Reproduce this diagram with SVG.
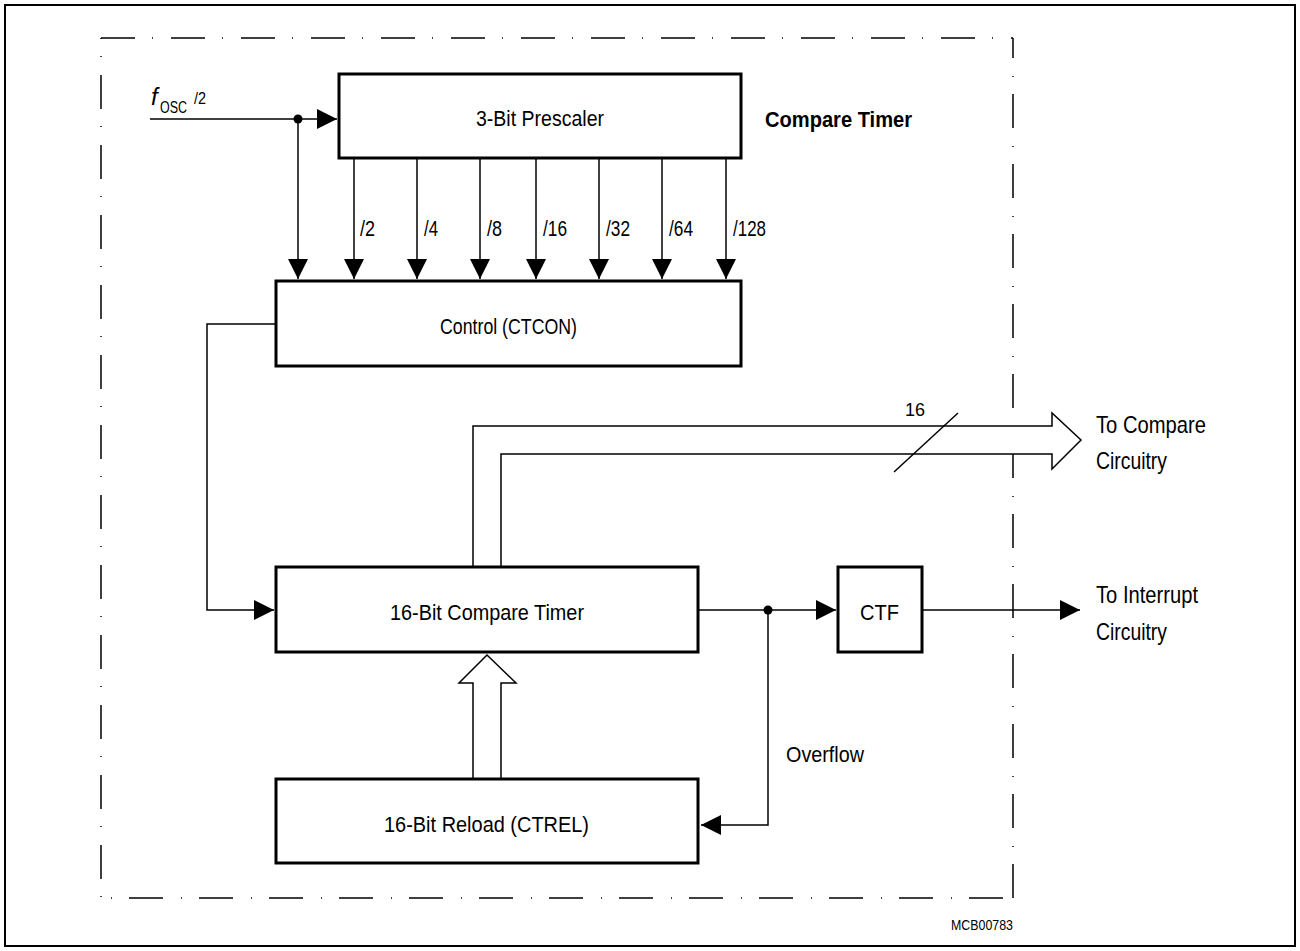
<svg xmlns="http://www.w3.org/2000/svg" width="1300" height="951" viewBox="0 0 1300 951">
<style>
.box{fill:#fff;stroke:#000;stroke-width:3}
.ln{fill:none;stroke:#000;stroke-width:1.5}
.dash{fill:none;stroke:#000;stroke-width:1.5;stroke-dasharray:34 17 1 18}
.t{font-family:"Liberation Sans",Arial,Helvetica,sans-serif;font-size:22px;fill:#000}
.b{font-weight:bold}
</style>
<defs>
<marker id="ah" markerUnits="userSpaceOnUse" markerWidth="20" markerHeight="20" refX="20" refY="10" orient="auto" viewBox="0 0 20 20">
<path d="M0,0 L20,10 L0,20 z" fill="#000"/>
</marker>
</defs>
<rect x="5" y="5" width="1290" height="941" fill="#fff" stroke="#000" stroke-width="2"/>
<g id="frame">
<path class="dash" d="M101,38 H1013"/>
<path class="dash" d="M101,38 V898" style="stroke-dashoffset:33"/>
<path class="dash" d="M1013,898 H101" style="stroke-dashoffset:60"/>
<path class="dash" d="M1013,898 V38"/>
</g>
<g id="connectors">
<path class="ln" d="M150,119 H337" marker-end="url(#ah)"/>
<path class="ln" d="M298,119 V279" marker-end="url(#ah)"/>
<circle cx="298" cy="119" r="4.5" fill="#000"/>
<path class="ln" d="M354,158 V279" marker-end="url(#ah)"/>
<path class="ln" d="M417,158 V279" marker-end="url(#ah)"/>
<path class="ln" d="M480,158 V279" marker-end="url(#ah)"/>
<path class="ln" d="M536,158 V279" marker-end="url(#ah)"/>
<path class="ln" d="M599,158 V279" marker-end="url(#ah)"/>
<path class="ln" d="M662,158 V279" marker-end="url(#ah)"/>
<path class="ln" d="M726,158 V279" marker-end="url(#ah)"/>
<path class="ln" d="M276,324 H207 V610 H274" marker-end="url(#ah)"/>
<path class="ln" d="M698,610 H836" marker-end="url(#ah)"/>
<circle cx="768" cy="610" r="4.5" fill="#000"/>
<path class="ln" d="M768,610 V825 H701" marker-end="url(#ah)"/>
<path class="ln" d="M922,610 H1080" marker-end="url(#ah)"/>
<path d="M473,567 V426 H1052 V413 L1081,440 L1052,469 V454 H501 V567" fill="#fff" stroke="#000" stroke-width="1.5"/>
<path class="ln" d="M894,472 L958,413"/>
<path d="M473,779 V683 H459 L487,655 L516,683 H501 V779" fill="#fff" stroke="#000" stroke-width="1.5"/>
</g>
<g id="prescaler">
<rect class="box" x="339" y="74" width="402" height="84"/>
<text class="t" x="540" y="126" text-anchor="middle" textLength="128" lengthAdjust="spacingAndGlyphs">3-Bit Prescaler</text>
</g>
<g id="control">
<rect class="box" x="276" y="281" width="465" height="85"/>
<text class="t" x="440" y="334" textLength="137" lengthAdjust="spacingAndGlyphs">Control (CTCON)</text>
</g>
<g id="compare-timer">
<rect class="box" x="276" y="567" width="422" height="85"/>
<text class="t" x="487" y="620" text-anchor="middle" textLength="194" lengthAdjust="spacingAndGlyphs">16-Bit Compare Timer</text>
</g>
<g id="ctf">
<rect class="box" x="838" y="567" width="84" height="85"/>
<text class="t" x="860" y="620" textLength="39" lengthAdjust="spacingAndGlyphs">CTF</text>
</g>
<g id="reload">
<rect class="box" x="276" y="779" width="422" height="84"/>
<text class="t" x="384" y="832" textLength="205" lengthAdjust="spacingAndGlyphs">16-Bit Reload (CTREL)</text>
</g>
<g id="labels">
<text class="t" x="151" y="105" style="font-style:italic;font-size:24px">f</text>
<text class="t" x="160" y="113" style="font-size:16px" textLength="27" lengthAdjust="spacingAndGlyphs">OSC</text>
<text class="t" x="194" y="104" style="font-size:16px" textLength="12" lengthAdjust="spacingAndGlyphs">/2</text>
<text class="t b" x="765" y="127" textLength="147" lengthAdjust="spacingAndGlyphs">Compare Timer</text>
<text class="t" x="360" y="236" textLength="15" lengthAdjust="spacingAndGlyphs">/2</text>
<text class="t" x="424" y="236" textLength="14" lengthAdjust="spacingAndGlyphs">/4</text>
<text class="t" x="487" y="236" textLength="15" lengthAdjust="spacingAndGlyphs">/8</text>
<text class="t" x="543" y="236" textLength="24" lengthAdjust="spacingAndGlyphs">/16</text>
<text class="t" x="606" y="236" textLength="24" lengthAdjust="spacingAndGlyphs">/32</text>
<text class="t" x="669" y="236" textLength="24" lengthAdjust="spacingAndGlyphs">/64</text>
<text class="t" x="733" y="236" textLength="33" lengthAdjust="spacingAndGlyphs">/128</text>
<text class="t" x="905" y="416" style="font-size:19px" textLength="20" lengthAdjust="spacingAndGlyphs">16</text>
<text class="t" x="1096" y="433" style="font-size:24px" textLength="110" lengthAdjust="spacingAndGlyphs">To Compare</text>
<text class="t" x="1096" y="469" style="font-size:24px" textLength="71" lengthAdjust="spacingAndGlyphs">Circuitry</text>
<text class="t" x="1096" y="603" style="font-size:24px" textLength="102" lengthAdjust="spacingAndGlyphs">To Interrupt</text>
<text class="t" x="1096" y="640" style="font-size:24px" textLength="71" lengthAdjust="spacingAndGlyphs">Circuitry</text>
<text class="t" x="786" y="762" textLength="78" lengthAdjust="spacingAndGlyphs">Overflow</text>
<text class="t" x="951" y="930" style="font-size:15px" textLength="62" lengthAdjust="spacingAndGlyphs">MCB00783</text>
</g>
</svg>
